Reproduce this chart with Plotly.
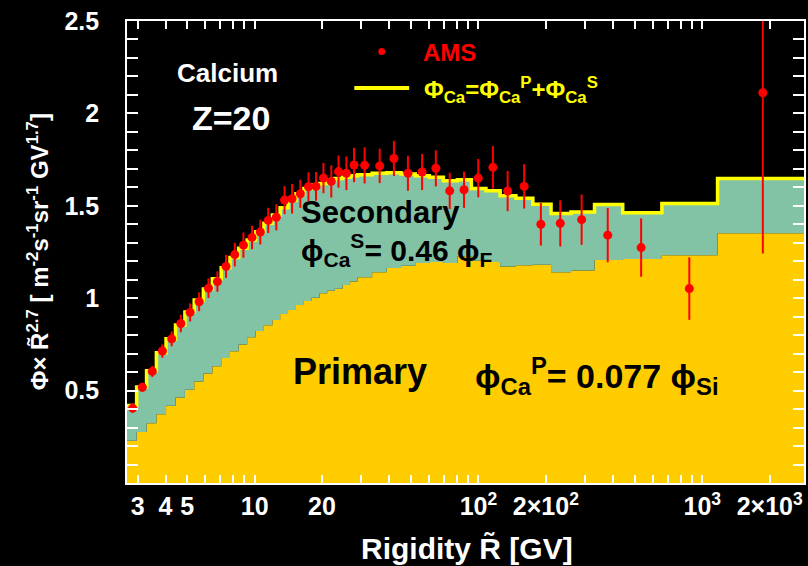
import math
import plotly.graph_objects as go

# AMS calcium flux multiplied by R^2.7, with statistical+systematic errors
rigidity = [2.85, 3.15, 3.49, 3.87, 4.26, 4.68, 5.15, 5.65, 6.22, 6.82,
            7.45, 8.15, 8.91, 9.73, 10.6, 11.5, 12.5, 13.6, 14.7, 16.0,
            17.4, 18.8, 20.3, 22.0, 23.7, 25.7, 27.8, 31.0, 36.2, 41.9,
            48.4, 56.0, 64.5, 74.4, 86.2, 99.8, 116, 135, 160, 190,
            232, 289, 378, 533, 875, 1864]
flux = [0.405, 0.518, 0.604, 0.714, 0.780, 0.863, 0.923, 0.981, 1.054, 1.090,
        1.172, 1.236, 1.287, 1.329, 1.358, 1.421, 1.438, 1.531, 1.538, 1.565,
        1.603, 1.605, 1.650, 1.632, 1.685, 1.676, 1.721, 1.719, 1.716, 1.756,
        1.676, 1.683, 1.703, 1.581, 1.587, 1.650, 1.708, 1.580, 1.605, 1.400,
        1.405, 1.425, 1.341, 1.274, 1.052, 2.112]
flux_err = [0.025, 0.024, 0.030, 0.036, 0.040, 0.047, 0.049, 0.051, 0.053, 0.055,
            0.062, 0.064, 0.068, 0.064, 0.067, 0.068, 0.071, 0.076, 0.080, 0.076,
            0.078, 0.078, 0.082, 0.087, 0.087, 0.091, 0.093, 0.098, 0.093, 0.095,
            0.095, 0.098, 0.098, 0.098, 0.098, 0.104, 0.115, 0.109, 0.120, 0.115,
            0.125, 0.136, 0.147, 0.158, 0.169, 0.870]

# Model histogram: primary (0.077 x Si) and total (primary + 0.46 x F)
bin_edges = [2.67, 2.97, 3.29, 3.64, 4.02, 4.43, 4.88, 5.37, 5.90, 6.47,
             7.09, 7.76, 8.48, 9.26, 10.1, 11.0, 12.0, 13.0, 14.1, 15.3,
             16.6, 18.0, 19.5, 21.1, 22.8, 24.7, 26.7, 28.8, 33.5, 38.9,
             45.1, 52.2, 60.3, 69.7, 80.5, 93.0, 108, 125, 147, 175,
             211, 259, 330, 441, 660, 1170, 3000]
primary = [0.229, 0.276, 0.323, 0.372, 0.418, 0.462, 0.505, 0.549, 0.593, 0.632,
           0.676, 0.713, 0.749, 0.789, 0.823, 0.854, 0.882, 0.914, 0.936, 0.963,
           0.985, 1.003, 1.027, 1.040, 1.051, 1.072, 1.091, 1.114, 1.140, 1.163,
           1.176, 1.190, 1.196, 1.190, 1.227, 1.203, 1.196, 1.171, 1.178, 1.181,
           1.141, 1.150, 1.207, 1.212, 1.232, 1.351]
total = [0.420, 0.520, 0.607, 0.705, 0.780, 0.855, 0.925, 0.990, 1.050, 1.105,
         1.165, 1.220, 1.270, 1.315, 1.360, 1.405, 1.450, 1.490, 1.530, 1.565,
         1.594, 1.612, 1.621, 1.636, 1.648, 1.654, 1.663, 1.668, 1.676, 1.679,
         1.672, 1.663, 1.654, 1.636, 1.641, 1.594, 1.581, 1.554, 1.541, 1.509,
         1.458, 1.467, 1.507, 1.463, 1.512, 1.648]

# x ticks: every integer multiple of each decade, labelled only where shown
x_labels = {3: "3", 4: "4", 5: "5", 10: "10", 20: "20",
            100: "10<sup>2</sup>", 200: "2\u00d710<sup>2</sup>",
            1000: "10<sup>3</sup>", 2000: "2\u00d710<sup>3</sup>"}
x_tickvals = [3, 4, 5, 6, 7, 8, 9, 10, 20, 30, 40, 50, 60, 70, 80, 90,
              100, 200, 300, 400, 500, 600, 700, 800, 900, 1000, 2000]
x_ticktext = [x_labels.get(v, "") for v in x_tickvals]

# y ticks every 0.1, labelled every 0.5
y_labels = {0.5: "0.5", 1.0: "1", 1.5: "1.5", 2.0: "2", 2.5: "2.5"}
y_tickvals = [round(0.1 * i, 1) for i in range(1, 26)]
y_ticktext = [y_labels[v] + "\u00a0\u00a0\u00a0" if v in y_labels else ""
              for v in y_tickvals]

X_RANGE = [math.log10(2.69), math.log10(2847)]
Y_RANGE = [0, 2.5]

PRIMARY_COLOR = "#FFCC00"
SECONDARY_COLOR = "#82C3A6"
TOTAL_COLOR = "#FFFF00"
AMS_COLOR = "#FF0000"
FONT = "Liberation Sans, Arial, Helvetica, sans-serif"

W, H = 808, 566
L, R, T, B = 127, 2, 21, 83


def px(x, y):
    """Pixel position on the canvas -> paper coordinates."""
    return (x - L) / (W - L - R), (H - B - y) / (H - B - T)


fig = go.Figure()

fig.add_trace(go.Scatter(
    x=bin_edges, y=primary + [primary[-1]], mode="lines",
    line=dict(shape="hv", width=0, color="rgba(0,0,0,0)"),
    fill="tozeroy", fillcolor=PRIMARY_COLOR, hoverinfo="skip",
    showlegend=False))
fig.add_trace(go.Scatter(
    x=bin_edges, y=total + [total[-1]], mode="lines",
    line=dict(shape="hv", width=0, color="rgba(0,0,0,0)"),
    fill="tonexty", fillcolor=SECONDARY_COLOR, hoverinfo="skip",
    showlegend=False))
fig.add_trace(go.Scatter(
    x=bin_edges, y=total + [total[-1]], mode="lines",
    line=dict(shape="hv", width=3.5, color=TOTAL_COLOR),
    showlegend=False))
fig.add_trace(go.Scatter(
    x=rigidity, y=flux, mode="markers",
    marker=dict(color=AMS_COLOR, size=9),
    error_y=dict(type="data", array=flux_err, color=AMS_COLOR,
                 thickness=2, width=0),
    showlegend=False))

tick_font = dict(family=FONT, size=25, color="white", weight="bold")

fig.update_layout(
    width=W, height=H,
    margin=dict(l=L, r=R, t=T, b=B),
    paper_bgcolor="black", plot_bgcolor="black",
    xaxis=dict(
        type="log", range=X_RANGE, tickmode="array",
        tickvals=x_tickvals, ticktext=x_ticktext,
        ticks="inside", ticklen=8, tickwidth=2, tickcolor="white",
        showline=True, linecolor="white", linewidth=2, mirror="allticks",
        showgrid=False, zeroline=False, tickfont=tick_font),
    yaxis=dict(
        range=Y_RANGE, tickmode="array", tickvals=y_tickvals,
        ticktext=y_ticktext,
        ticks="inside", ticklen=11, tickwidth=2, tickcolor="white",
        showline=True, linecolor="white", linewidth=2, mirror="allticks",
        showgrid=False, zeroline=False, tickfont=tick_font),
)


def label(text, x, y, size, color, xanchor="center", angle=0):
    ax, ay = px(x, y)
    fig.add_annotation(
        text=text, x=ax, y=ay, xref="paper", yref="paper",
        xanchor=xanchor, yanchor="middle", showarrow=False,
        textangle=angle,
        font=dict(family=FONT, size=size, color=color, weight="bold"))


label("Calcium", 228, 73, 26, "white")
label("Z=20", 231, 118, 34, "white")
label("AMS", 450, 52, 24, AMS_COLOR)
label("\u03a6<sub>Ca</sub>=\u03a6<sub>Ca</sub><sup>P</sup>+\u03a6<sub>Ca</sub><sup>S</sup>",
      423, 90, 24, TOTAL_COLOR, xanchor="left")
label("Secondary", 381, 212, 31, "black")
label("\u03d5<sub>Ca</sub><sup>S</sup>= 0.46 \u03d5<sub>F</sub>", 300, 250, 30, "black",
      xanchor="left")
label("Primary", 361, 371, 36, "black")
label("\u03d5<sub>Ca</sub><sup>P</sup>= 0.077 \u03d5<sub>Si</sub>", 474, 376, 34, "black",
      xanchor="left")
label("Rigidity R\u0303 [GV]", 468, 548, 30, "white")
label("\u03a6\u00d7 R\u0303<sup>2.7</sup> [ m<sup>-2</sup>s<sup>-1</sup>sr<sup>-1</sup> GV<sup>1.7</sup>]",
      38, 252, 24, "white", angle=-90)

# legend symbols
dx0, dy0 = px(379, 48)
dx1, dy1 = px(386, 55)
fig.add_shape(type="circle", xref="paper", yref="paper",
              x0=dx0, y0=dy0, x1=dx1, y1=dy1,
              fillcolor=AMS_COLOR, line=dict(width=0))
lx0, ly = px(355, 88)
lx1, _ = px(410, 88)
fig.add_shape(type="line", xref="paper", yref="paper",
              x0=lx0, y0=ly, x1=lx1, y1=ly,
              line=dict(color=TOTAL_COLOR, width=4))

fig.write_html("out.html")
